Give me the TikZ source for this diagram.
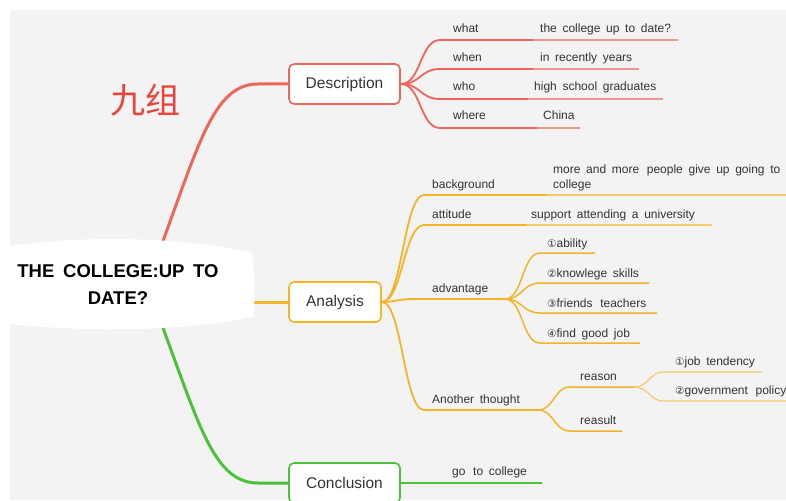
\documentclass[tikz,border=0pt]{standalone}
\usepackage{fontspec}
\setmainfont{Liberation Sans}[WordSpace=1.7]
\newfontfamily\cjkfont{Noto Sans CJK SC}
\newfontfamily\circfont{DejaVu Sans}
\usetikzlibrary{calc,backgrounds}
\definecolor{canvas}{HTML}{F3F3F3}
\definecolor{txt}{HTML}{333333}
\definecolor{redb}{HTML}{EC6659}
\definecolor{redl}{HTML}{F0968C}
\definecolor{orgb}{HTML}{F4B428}
\definecolor{orgl}{HTML}{F6CB6A}
\definecolor{grnb}{HTML}{4CC23A}
\definecolor{titlered}{HTML}{E8453C}
\newcommand\cnum[1]{{\circfont\fontsize{10.5}{12}\selectfont #1}}
\tikzset{
  topic/.style={draw, fill=white, rounded corners=5pt, line width=1.6pt,
    minimum height=40pt, inner sep=0pt, text=txt,
    font=\fontsize{15.5}{18}\selectfont},
  lbl/.style={anchor=base west, inner sep=0pt, text=txt,
    font=\fontsize{12}{15}\selectfont},
  trunk/.style={line width=3pt},
  twig/.style={line width=1.8pt},
  leaf/.style={line width=1.2pt},
  bend to/.style={to path={.. controls ($(\tikztostart)+(#1,0)$) and ($(\tikztotarget)+(-#1,0)$) .. (\tikztotarget)}},
  bend to/.default=20
}
\begin{document}
\begin{tikzpicture}[x=1pt,y=-1pt]
\useasboundingbox (0,0) rectangle (786,500);
\clip (0,0) rectangle (786,500);

% group title
\node[text=titlered, font=\cjkfont\fontsize{35}{40}\selectfont, inner sep=0pt] (group) at (145,100) {九组};

% central topic text
\node[align=center, inner sep=0pt, text=black, font=\bfseries\fontsize{18.5}{27}\selectfont] (root) at (118,285) {THE COLLEGE:UP TO\\DATE?};
\coordinate (root-top) at (163,241);
\coordinate (root-bot) at (163,328);
\coordinate (root-right) at (254,302);

% main topics
\node[topic, draw=redb, minimum width=111pt] (desc) at (344.5,84) {Description};
\node[topic, draw=orgb, minimum width=92pt] (ana) at (335,302) {Analysis};
\node[topic, draw=grnb, minimum width=111pt] (conc) at (344.5,483) {Conclusion};

\begin{scope}[on background layer]
  \fill[white] (0,0) rectangle (786,500);
  \fill[canvas] (10,10) rectangle (786,500);
  % trunks from the central topic
  \draw[trunk, redb] (root-top) .. controls (200,140) and (215,84) .. (258,84) -- (desc.west);
  \draw[trunk, orgb] (root-right) -- (ana.west);
  \draw[trunk, grnb] (root-bot) .. controls (200,428) and (215,483) .. (258,483) -- (conc.west);
  % central topic shape
  \fill[white] (10,246) .. controls (80,235) and (190,237) .. (252,253)
    .. controls (255,275) and (255,295) .. (254,316)
    .. controls (190,332) and (80,332) .. (10,324) -- cycle;
\end{scope}

% ---- Description branch
\coordinate (dfork) at (401,84);
\coordinate (what-s) at (440,40);  \coordinate (what-m) at (533,40);  \coordinate (what-e) at (678,40);
\coordinate (when-s) at (440,69);  \coordinate (when-m) at (533,69);  \coordinate (when-e) at (639,69);
\coordinate (who-s) at (440,99);   \coordinate (who-m) at (528,99);   \coordinate (who-e) at (663,99);
\coordinate (where-s) at (440,128);\coordinate (where-m) at (537,128);\coordinate (where-e) at (580,128);
\foreach \k in {what,when,who,where}{
  \draw[twig, redb] (dfork) to[bend to] (\k-s) -- (\k-m);
  \draw[leaf, redl] (\k-m) -- (\k-e);
}
\node[lbl] (what) at (453,33) {what};
\node[lbl] (when) at (453,62) {when};
\node[lbl] (who) at (453,91) {who};
\node[lbl] (where) at (453,120) {where};
\node[lbl] (whatv) at (540,33) {the college up to date?};
\node[lbl] (whenv) at (540,62) {in recently years};
\node[lbl] (whov) at (534,91) {high school graduates};
\node[lbl] (wherev) at (543,120) {China};

% ---- Analysis branch
\coordinate (afork) at (382,302);
\coordinate (bg-s) at (424,195);  \coordinate (bg-m) at (547,195);  \coordinate (bg-e) at (790,195);
\coordinate (att-s) at (424,225); \coordinate (att-m) at (526,225); \coordinate (att-e) at (712,225);
\coordinate (adv-s) at (412,299); \coordinate (adv-m) at (505,299);
\coordinate (ano-s) at (424,410); \coordinate (ano-m) at (538,410);
\draw[twig, orgb] (afork) to[bend to] (bg-s) -- (bg-m);
\draw[leaf, orgl] (bg-m) -- (bg-e);
\draw[twig, orgb] (afork) to[bend to] (att-s) -- (att-m);
\draw[leaf, orgl] (att-m) -- (att-e);
\draw[twig, orgb] (afork) to[bend to=12] (adv-s) -- (adv-m);
\draw[twig, orgb] (afork) to[bend to] (ano-s) -- (ano-m);
\node[lbl] (bg) at (432,188) {background};
\node[lbl, align=left] (bgv) at (553,188) {more and more\, people give up going to\\college};
\node[lbl] (att) at (432,218) {attitude};
\node[lbl] (attv) at (531,218) {support attending a university};
\node[lbl] (adv) at (432,292) {advantage};
\node[lbl] (ano) at (432,403) {Another thought};

% advantage items
\coordinate (ab-s) at (540,253); \coordinate (ab-e) at (595,253);
\coordinate (kn-s) at (540,283); \coordinate (kn-e) at (649,283);
\coordinate (fr-s) at (540,313); \coordinate (fr-e) at (657,313);
\coordinate (fj-s) at (540,343); \coordinate (fj-e) at (640,343);
\foreach \k in {ab,kn,fr,fj}{
  \draw[leaf, orgb, line width=1.5pt] (adv-m) to[bend to=18] (\k-s) -- (\k-e);
}
\node[lbl] (ab) at (547,247) {\cnum{①}ability};
\node[lbl] (kn) at (547,277) {\cnum{②}knowlege skills};
\node[lbl] (fr) at (547,307) {\cnum{③}friends\, teachers};
\node[lbl] (fj) at (547,337) {\cnum{④}find good job};

% another thought items
\coordinate (rs-s) at (570,387); \coordinate (rs-m) at (634,387);
\coordinate (rl-s) at (570,431); \coordinate (rl-e) at (622,431);
\draw[leaf, orgb, line width=1.5pt] (ano-m) to[bend to=16] (rs-s) -- (rs-m);
\draw[leaf, orgb, line width=1.5pt] (ano-m) to[bend to=16] (rl-s) -- (rl-e);
\node[lbl] (rs) at (580,380) {reason};
\node[lbl] (rl) at (580,424) {reasult};
\coordinate (jt-s) at (664,372); \coordinate (jt-e) at (762,372);
\coordinate (gp-s) at (664,401); \coordinate (gp-e) at (790,401);
\draw[leaf, orgl] (rs-m) to[bend to=15] (jt-s) -- (jt-e);
\draw[leaf, orgl] (rs-m) to[bend to=15] (gp-s) -- (gp-e);
\node[lbl] (jt) at (675,365) {\cnum{①}job tendency};
\node[lbl] (gp) at (675,394) {\cnum{②}government\, policy};

% ---- Conclusion branch
\coordinate (gc-e) at (542,483);
\draw[leaf, grnb, line width=1.5pt] (conc.east) -- (gc-e);
\node[lbl] (gc) at (452,475) {go\, to college};
\end{tikzpicture}
\end{document}
